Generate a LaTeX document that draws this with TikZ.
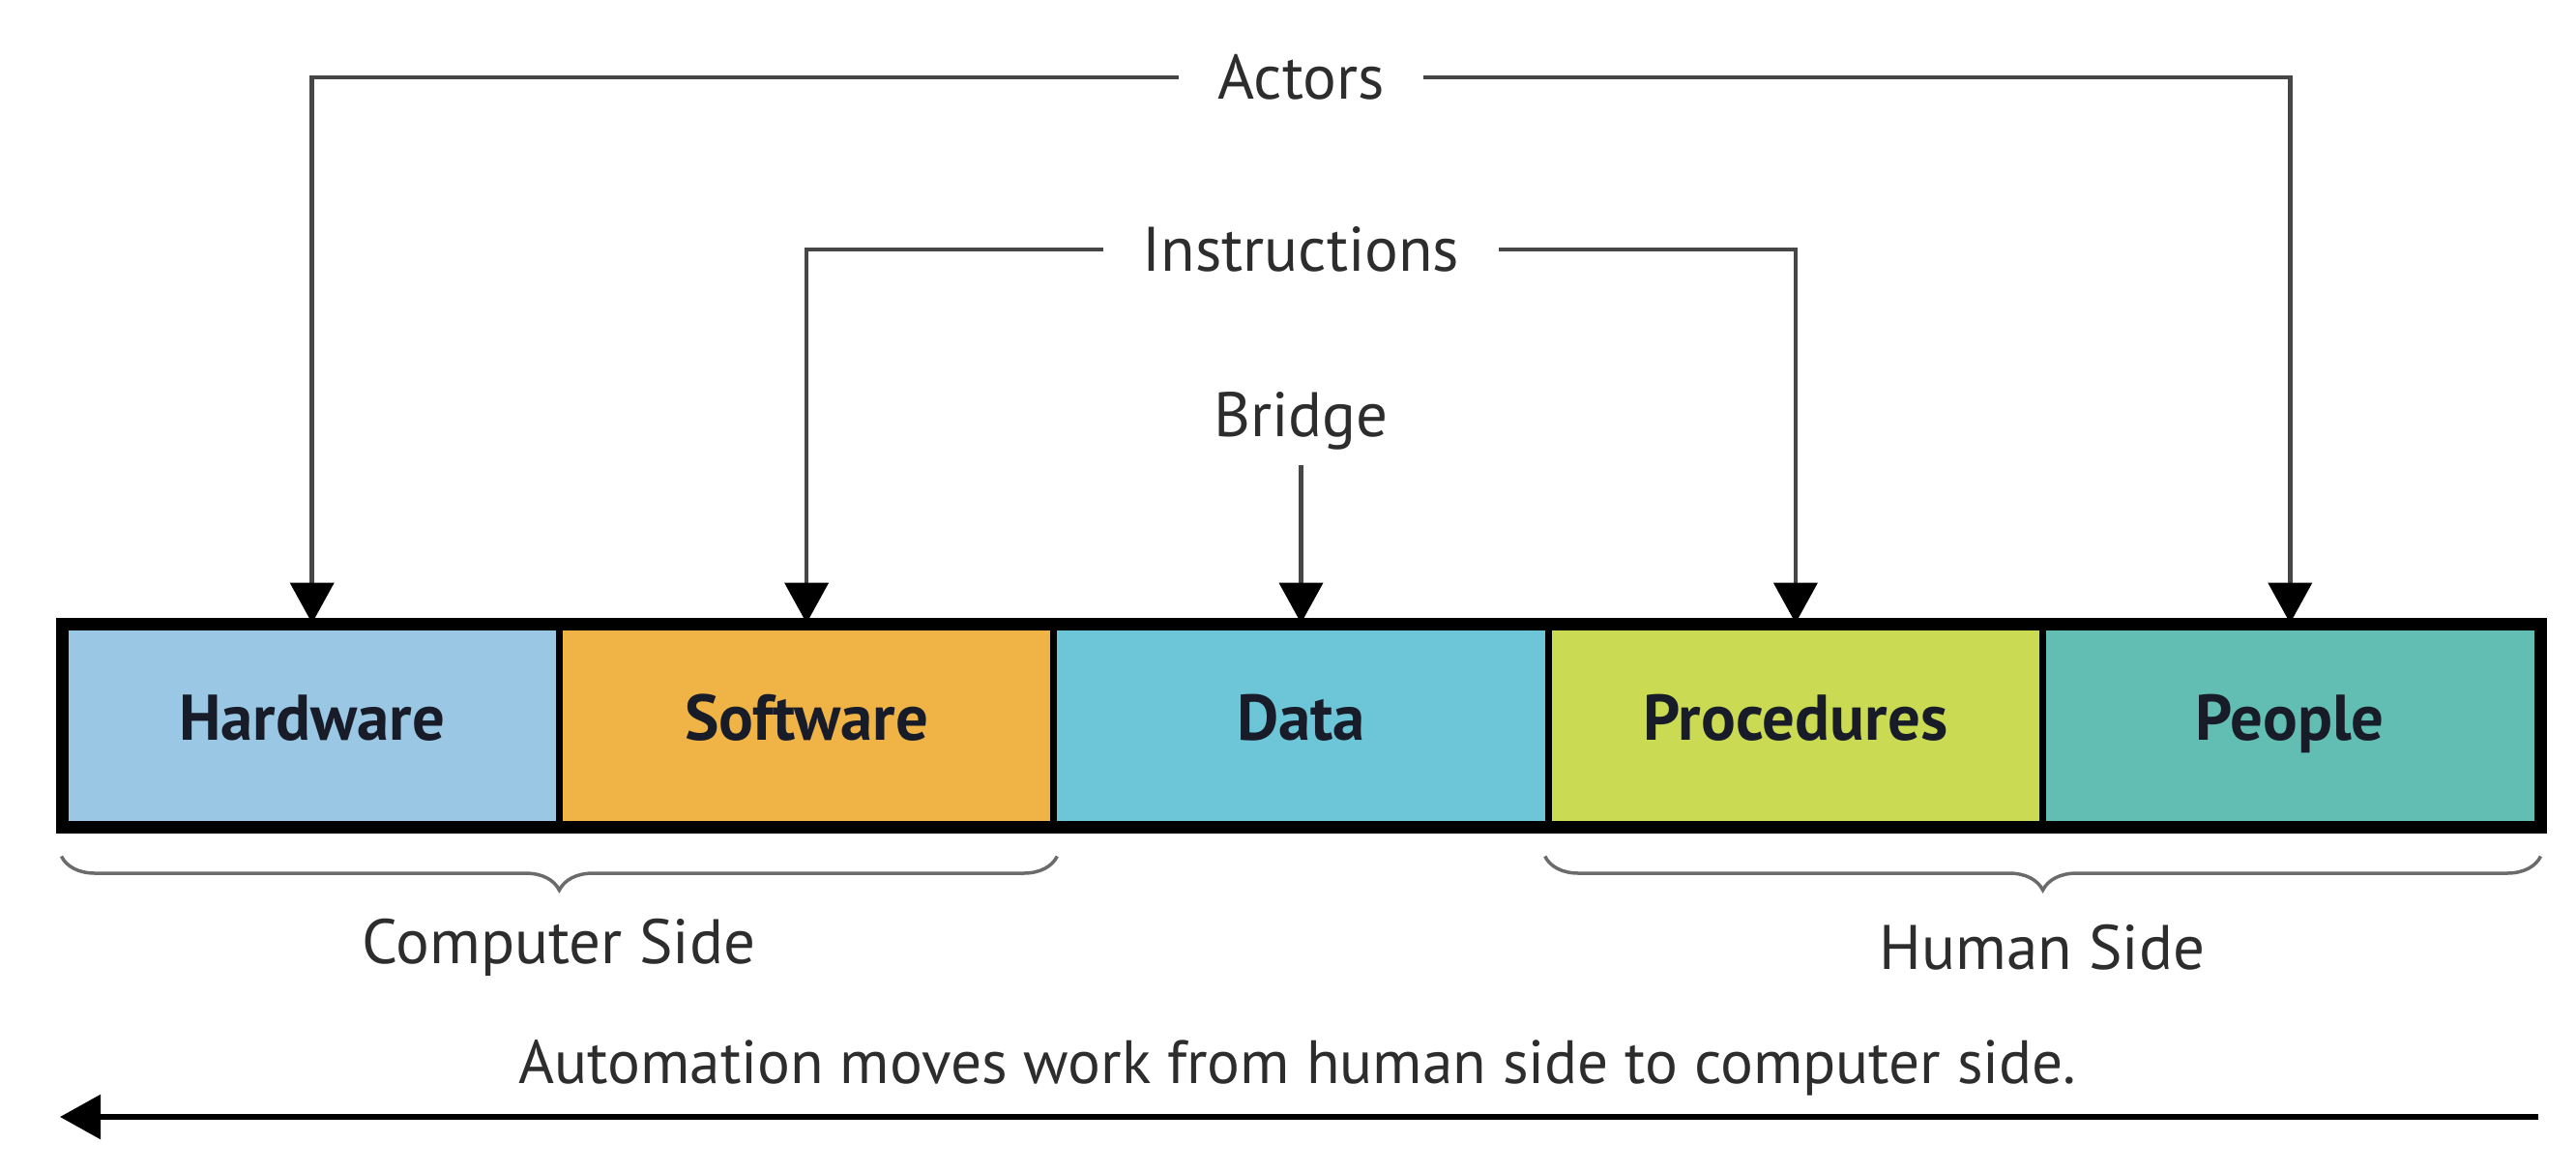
\documentclass[tikz,border=0pt]{standalone}
\usepackage{fontspec}
\setmainfont{PT Sans}
\usetikzlibrary{arrows.meta,decorations.pathreplacing}

\definecolor{hwblue}{RGB}{154,200,228}
\definecolor{swgold}{RGB}{240,180,70}
\definecolor{datacyan}{RGB}{108,198,216}
\definecolor{proclime}{RGB}{202,218,82}
\definecolor{peopleteal}{RGB}{98,190,178}
\definecolor{partink}{RGB}{24,28,40}
\definecolor{tagink}{RGB}{45,45,45}
\definecolor{lineink}{RGB}{70,70,70}

\begin{document}
\begin{tikzpicture}[
    part/.style={draw=black, line width=0.07cm, rectangle, minimum width=5.114cm, minimum height=2.04cm, inner sep=0pt, text height=1.1em, text depth=0.2em, text=partink, font=\fontsize{19}{22}\selectfont\bfseries},
    tag/.style={text=tagink, inner xsep=0.4cm, inner ysep=0.15cm, font=\fontsize{18.5}{22}\selectfont},
    conn/.style={draw=lineink, line width=0.045cm, -{Triangle[width=0.45cm, length=0.42cm, color=black]}},
    sidebrace/.style={draw=lineink!80, line width=0.035cm, decorate, decoration={brace, mirror, amplitude=0.35cm}}
]
    \useasboundingbox (0,0) rectangle (26.64,-12.11);

    % Draw boxes
    \node[part, fill=hwblue] (hw) at (3.227,-7.50) {Hardware};
    \node[part, fill=swgold] (sw) at (8.341,-7.50) {Software};
    \node[part, fill=datacyan] (data) at (13.455,-7.50) {Data};
    \node[part, fill=proclime] (proc) at (18.569,-7.50) {Procedures};
    \node[part, fill=peopleteal] (people) at (23.683,-7.50) {People};
    \draw[line width=0.12cm] (hw.north west) rectangle (people.south east);

    % Draw labels
    \node[tag] (actors) at (13.455,-0.80) {Actors};
    \node[tag] (instr) at (13.455,-2.58) {Instructions};
    \node[tag] (bridge) at (13.455,-4.35) {Bridge};
    \node[tag] (compside) at (5.78,-9.80) {Computer Side};
    \node[tag] (humanside) at (21.12,-9.80) {Human Side};
    \node[tag, font=\fontsize{18}{22}\selectfont] (auto) at (13.42,-11.04) {Automation moves work from human side to computer side.};

    % Draw arrows
    \draw[conn] (actors.west) -| (hw.north);
    \draw[conn] (actors.east) -| (people.north);
    \draw[conn] (instr.west) -| (sw.north);
    \draw[conn] (instr.east) -| (proc.north);
    \draw[conn] (bridge.south) -- (data.north);

    % Draw braces
    \draw[sidebrace] ([yshift=-0.3cm]hw.south west) -- ([yshift=-0.3cm]sw.south east);
    \draw[sidebrace] ([yshift=-0.3cm]proc.south west) -- ([yshift=-0.3cm]people.south east);

    % Automation arrow
    \coordinate (autostart) at (26.25,-11.55);
    \coordinate (autoend) at (0.62,-11.55);
    \draw[line width=0.06cm, -{Triangle[width=0.45cm, length=0.42cm]}] (autostart) -- (autoend);
\end{tikzpicture}
\end{document}
